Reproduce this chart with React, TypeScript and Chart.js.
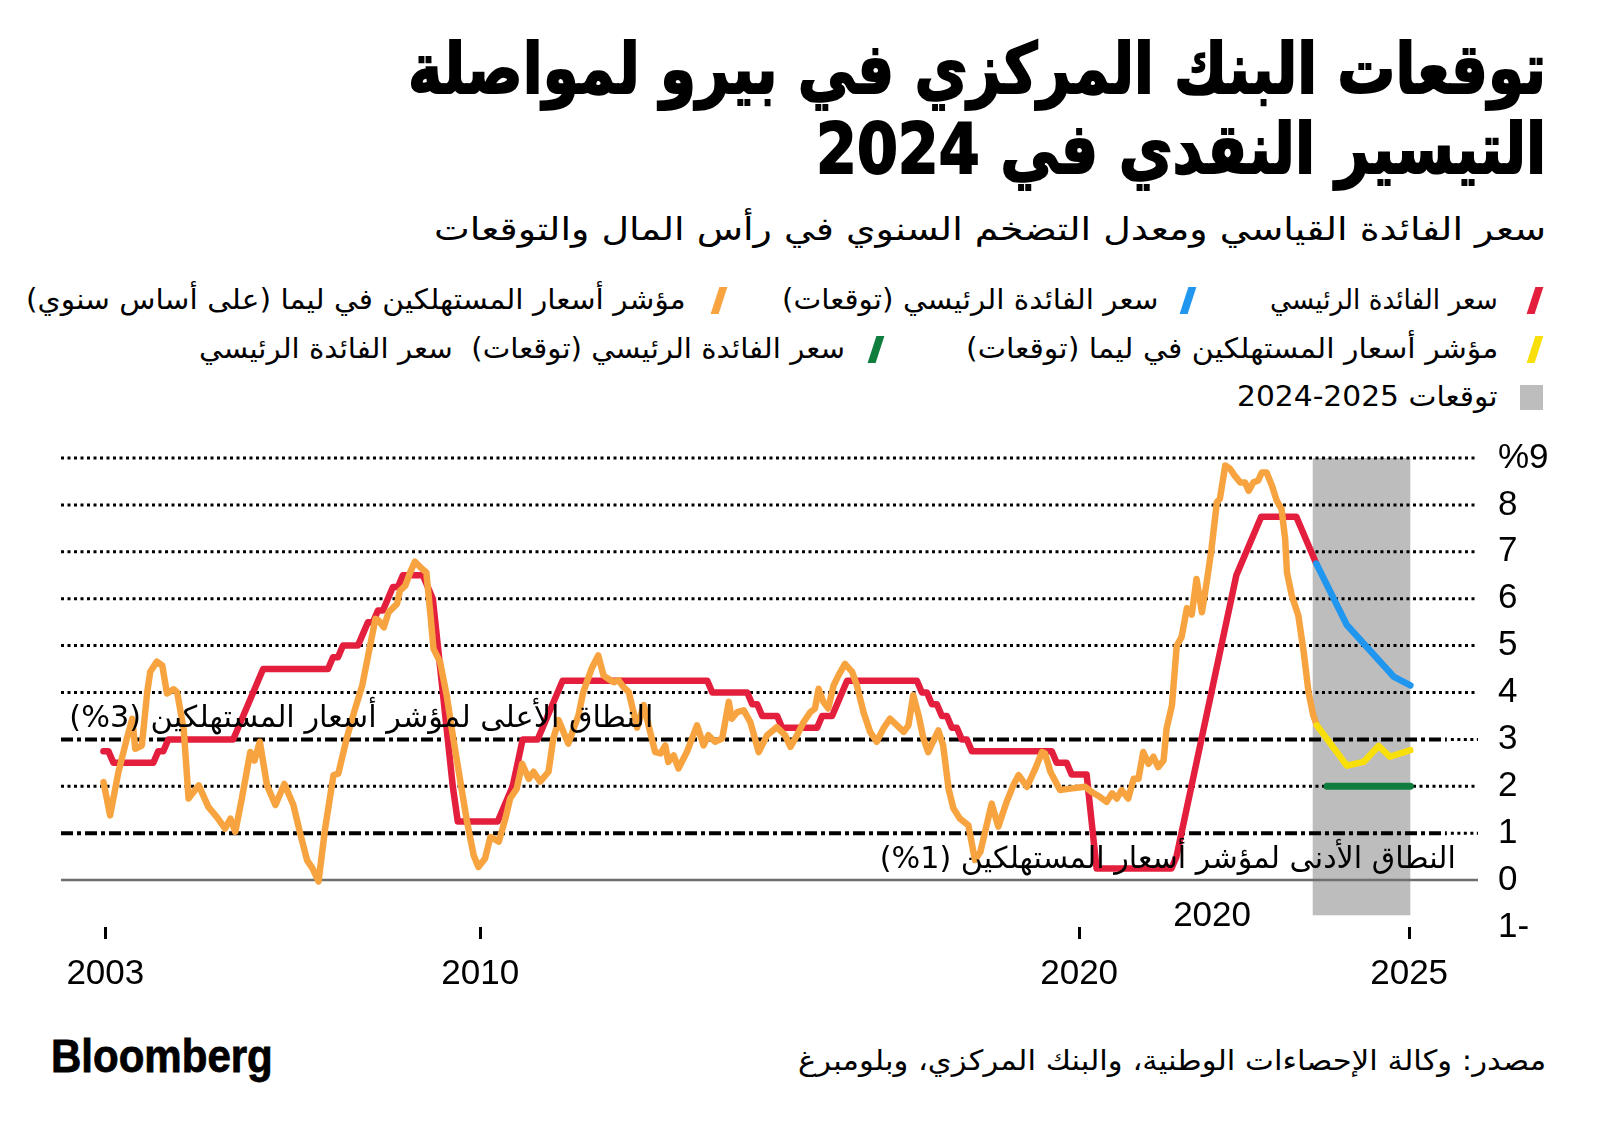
import React, { useEffect, useLayoutEffect, useRef } from 'react';
import { Chart, registerables } from 'chart.js';

Chart.register(...registerables);

// ---------- texts ----------
const TITLE_LINES = ['توقعات البنك المركزي في بيرو لمواصلة', 'التيسير النقدي في 2024'];
const SUBTITLE = 'سعر الفائدة القياسي ومعدل التضخم السنوي في رأس المال والتوقعات';
const SOURCE = 'مصدر: وكالة الإحصاءات الوطنية، والبنك المركزي، وبلومبرغ';
const LOGO = 'Bloomberg';
const UPPER_LABEL = 'النطاق الأعلى لمؤشر أسعار المستهلكين (3%)';
const LOWER_LABEL = 'النطاق الأدنى لمؤشر أسعار المستهلكين (1%)';
const EXTRA_YEAR_LABEL = '2020';

// ---------- legend ----------
const LEGEND_LABELS = [
  'سعر الفائدة الرئيسي',
  'سعر الفائدة الرئيسي (توقعات)',
  'مؤشر أسعار المستهلكين في ليما (على أساس سنوي)',
  'مؤشر أسعار المستهلكين في ليما (توقعات)',
  'سعر الفائدة الرئيسي (توقعات)  سعر الفائدة الرئيسي',
  'توقعات 2025-2024',
];
const RED = '#e41f3d';
const BLUE = '#2196ef';
const ORANGE = '#f7a440';
const YELLOW = '#f9df0a';
const GREEN = '#0f7d3d';
const SHADE = '#bdbdbd';
const LEGEND_COLORS = [RED, BLUE, ORANGE, YELLOW, GREEN, SHADE];

// ---------- axes ----------
const X_MIN = 2003.0;
const X_MAX = 2026.66;
const X_TICK_VALUES = [2003.74, 2010.0, 2020.0, 2025.51];
const X_TICK_LABELS = ['2003', '2010', '2020', '2025'];
const Y_MIN = -1;
const Y_MAX = 9;
const Y_TICK_VALUES = [-1, 0, 1, 2, 3, 4, 5, 6, 7, 8, 9];
const Y_TICK_LABELS = ['1-', '0', '1', '2', '3', '4', '5', '6', '7', '8', '%9'];
const GRID_VALUES = [2, 4, 5, 6, 7, 8, 9];
const BOUND_VALUES = [1, 3];
const BOUND_END = 2026.14;
const FORECAST_FROM = 2023.9;
const FORECAST_TO = 2025.53;
const FORECAST_BOTTOM = -0.75;

// ---------- data ----------
// Policy rate, monthly from Sep 2003 to Dec 2023
const RATE_START_YEAR = 2003;
const RATE_START_MONTH = 9;
const RATE_VALUES = [
  2.75, 2.75, 2.5, 2.5,
  2.5, 2.5, 2.5, 2.5, 2.5, 2.5, 2.5, 2.75, 2.75, 3, 3, 3,
  3, 3, 3, 3, 3, 3, 3, 3, 3, 3, 3, 3.25,
  3.5, 3.75, 4, 4.25, 4.5, 4.5, 4.5, 4.5, 4.5, 4.5, 4.5, 4.5,
  4.5, 4.5, 4.5, 4.5, 4.5, 4.5, 4.75, 4.75, 5, 5, 5, 5,
  5.25, 5.5, 5.5, 5.75, 5.75, 6, 6.25, 6.25, 6.5, 6.5, 6.5, 6.5,
  6.5, 6.25, 6, 5, 4, 3, 2, 1.25, 1.25, 1.25, 1.25, 1.25,
  1.25, 1.25, 1.25, 1.25, 1.5, 1.75, 2, 2.5, 3, 3, 3, 3,
  3.25, 3.5, 3.75, 4, 4.25, 4.25, 4.25, 4.25, 4.25, 4.25, 4.25, 4.25,
  4.25, 4.25, 4.25, 4.25, 4.25, 4.25, 4.25, 4.25, 4.25, 4.25, 4.25, 4.25,
  4.25, 4.25, 4.25, 4.25, 4.25, 4.25, 4.25, 4.25, 4.25, 4.25, 4, 4,
  4, 4, 4, 4, 4, 4, 3.75, 3.75, 3.5, 3.5, 3.5, 3.5,
  3.25, 3.25, 3.25, 3.25, 3.25, 3.25, 3.25, 3.25, 3.5, 3.5, 3.5, 3.75,
  4, 4.25, 4.25, 4.25, 4.25, 4.25, 4.25, 4.25, 4.25, 4.25, 4.25, 4.25,
  4.25, 4.25, 4.25, 4.25, 4, 4, 3.75, 3.75, 3.5, 3.5, 3.25, 3.25,
  3, 3, 2.75, 2.75, 2.75, 2.75, 2.75, 2.75, 2.75, 2.75, 2.75, 2.75,
  2.75, 2.75, 2.75, 2.75, 2.75, 2.75, 2.75, 2.5, 2.5, 2.5, 2.25, 2.25,
  2.25, 2.25, 1.25, 0.25, 0.25, 0.25, 0.25, 0.25, 0.25, 0.25, 0.25, 0.25,
  0.25, 0.25, 0.25, 0.25, 0.25, 0.25, 0.25, 0.5, 1, 1.5, 2, 2.5,
  3, 3.5, 4, 4.5, 5, 5.5, 6, 6.5, 6.75, 7, 7.25, 7.5,
  7.75, 7.75, 7.75, 7.75, 7.75, 7.75, 7.75, 7.75, 7.5, 7.25, 7, 6.75,
];

// Lima CPI y/y (dates as decimal years)
const CPI_YEARS = [
  2003.71, 2003.82, 2003.96, 2004.10, 2004.19, 2004.24, 2004.35, 2004.44, 2004.49, 2004.60,
  2004.69, 2004.77, 2004.88, 2004.94, 2005.05, 2005.13, 2005.30, 2005.46, 2005.60, 2005.74,
  2005.83, 2005.91, 2006.02, 2006.16, 2006.23, 2006.32, 2006.44, 2006.58, 2006.73, 2006.88,
  2007.00, 2007.11, 2007.20, 2007.30, 2007.41, 2007.55, 2007.63, 2007.77, 2007.91, 2008.03,
  2008.14, 2008.25, 2008.30, 2008.39, 2008.47, 2008.61, 2008.66, 2008.75, 2008.83, 2008.91,
  2009.00, 2009.10, 2009.17, 2009.22, 2009.33, 2009.44, 2009.55, 2009.67, 2009.78, 2009.89,
  2009.97, 2010.08, 2010.17, 2010.31, 2010.42, 2010.50, 2010.61, 2010.70, 2010.81, 2010.89,
  2011.00, 2011.14, 2011.22, 2011.31, 2011.39, 2011.47, 2011.56, 2011.64, 2011.72, 2011.86,
  2011.97, 2012.06, 2012.14, 2012.23, 2012.31, 2012.39, 2012.48, 2012.62, 2012.73, 2012.81,
  2012.92, 2013.01, 2013.09, 2013.14, 2013.23, 2013.31, 2013.45, 2013.62, 2013.73, 2013.81,
  2013.92, 2014.04, 2014.15, 2014.20, 2014.29, 2014.40, 2014.51, 2014.65, 2014.79, 2014.95,
  2015.09, 2015.18, 2015.29, 2015.40, 2015.51, 2015.59, 2015.65, 2015.73, 2015.81, 2015.90,
  2015.98, 2016.09, 2016.21, 2016.29, 2016.40, 2016.51, 2016.62, 2016.73, 2016.84, 2016.96,
  2017.07, 2017.15, 2017.23, 2017.32, 2017.40, 2017.48, 2017.57, 2017.65, 2017.73, 2017.82,
  2017.90, 2018.01, 2018.15, 2018.26, 2018.35, 2018.43, 2018.54, 2018.65, 2018.79, 2018.90,
  2018.99, 2019.13, 2019.27, 2019.38, 2019.43, 2019.52, 2019.68, 2019.85, 2020.10, 2020.21,
  2020.35, 2020.46, 2020.55, 2020.63, 2020.71, 2020.82, 2020.91, 2020.99, 2021.07, 2021.16,
  2021.24, 2021.32, 2021.41, 2021.46, 2021.55, 2021.63, 2021.71, 2021.80, 2021.88, 2021.96,
  2022.05, 2022.13, 2022.21, 2022.30, 2022.35, 2022.44, 2022.52, 2022.60, 2022.69, 2022.77,
  2022.83, 2022.91, 2022.99, 2023.05, 2023.13, 2023.22, 2023.30, 2023.38, 2023.44, 2023.47,
  2023.55, 2023.66, 2023.75, 2023.83, 2023.91, 2023.97,
];
const CPI_VALUES = [
  2.09, 1.38, 2.31, 3.02, 3.44, 2.80, 2.87, 4.01, 4.44, 4.66,
  4.58, 3.98, 4.07, 4.00, 3.20, 1.74, 2.02, 1.56, 1.35, 1.10,
  1.31, 1.03, 1.74, 2.73, 2.55, 2.95, 2.02, 1.60, 2.05, 1.60,
  0.96, 0.42, 0.25, -0.03, 1.10, 2.24, 2.27, 3.02, 3.65, 4.15,
  4.86, 5.57, 5.54, 5.39, 5.71, 5.89, 6.17, 6.28, 6.56, 6.79,
  6.67, 6.56, 5.64, 4.93, 4.65, 3.94, 3.02, 2.09, 1.24, 0.53,
  0.28, 0.46, 0.92, 0.82, 1.31, 1.74, 1.95, 2.48, 2.16, 2.31,
  2.10, 2.31, 3.02, 3.41, 3.16, 2.91, 3.23, 3.51, 4.01, 4.51,
  4.79, 4.36, 4.29, 4.22, 4.26, 4.12, 4.01, 3.25, 3.73, 3.30,
  2.73, 2.70, 2.87, 2.52, 2.66, 2.38, 2.73, 3.30, 2.87, 3.09,
  2.95, 3.02, 3.80, 3.44, 3.58, 3.62, 3.37, 2.73, 3.09, 3.26,
  3.09, 2.84, 3.09, 3.37, 3.58, 3.66, 4.08, 3.80, 3.66, 4.15,
  4.36, 4.61, 4.44, 4.15, 3.58, 3.16, 2.95, 3.23, 3.44, 3.30,
  3.16, 3.30, 3.94, 3.51, 3.02, 2.73, 2.98, 3.19, 2.87, 1.95,
  1.53, 1.31, 1.17, 0.43, 0.60, 1.03, 1.63, 1.14, 1.67, 2.02,
  2.24, 1.99, 2.38, 2.73, 2.70, 2.31, 1.92, 1.95, 1.99, 1.88,
  1.77, 1.67, 1.85, 1.74, 1.92, 1.74, 2.16, 2.16, 2.73, 2.48,
  2.63, 2.41, 2.55, 3.23, 3.73, 5.00, 5.18, 5.80, 5.66, 6.42,
  5.71, 6.35, 7.06, 8.06, 8.13, 8.84, 8.77, 8.62, 8.48, 8.48,
  8.30, 8.48, 8.52, 8.69, 8.69, 8.41, 8.09, 7.91, 7.27, 6.56,
  6.07, 5.64, 4.86, 4.01, 3.51, 3.30,
];

// Forecasts
const RATE_FC_YEARS = [2023.96, 2024.47, 2025.25, 2025.53];
const RATE_FC_VALUES = [6.75, 5.44, 4.34, 4.15];
const CPI_FC_YEARS = [2023.97, 2024.47, 2024.75, 2025.0, 2025.19, 2025.53];
const CPI_FC_VALUES = [3.30, 2.44, 2.52, 2.86, 2.63, 2.77];
const NEUTRAL_YEARS = [2024.14, 2025.53];
const NEUTRAL_VALUES = [2, 2];

// ---------- helpers ----------
const RATE_YEARS = RATE_VALUES.map((_, i) => {
  const m = RATE_START_MONTH - 1 + i;
  return RATE_START_YEAR + (m + 0.5) / 12;
});
const pts = (xs: number[], ys: number[]) => xs.map((x, i) => ({ x, y: ys[i] }));

const AR_FONT = '"DejaVu Sans", sans-serif';
const NUM_FONT = '"Liberation Sans", Arial, sans-serif';

const ANNOTATIONS = [
  { text: UPPER_LABEL, x: 2012.89, y: 3.27, width: 584, size: 30 },
  { text: LOWER_LABEL, x: 2026.29, y: 0.26, width: 576, size: 30 },
];
const EXTRA_YEAR_POS = { x: 2022.22, y: -0.77 };

const decorPlugin = {
  id: 'decor',
  beforeDatasetsDraw(chart: any) {
    const { ctx, chartArea: a } = chart;
    const xs = chart.scales.x;
    const ys = chart.scales.y;
    ctx.save();
    const sx0 = xs.getPixelForValue(FORECAST_FROM);
    const sx1 = xs.getPixelForValue(FORECAST_TO);
    const sy0 = ys.getPixelForValue(Y_MAX);
    const sy1 = ys.getPixelForValue(FORECAST_BOTTOM);
    ctx.fillStyle = SHADE;
    ctx.fillRect(sx0, sy0, sx1 - sx0, sy1 - sy0);
    const hline = (v: number, from: number, to: number, dash: number[], lw: number, color: string) => {
      const py = ys.getPixelForValue(v);
      ctx.beginPath();
      ctx.setLineDash(dash);
      ctx.lineWidth = lw;
      ctx.strokeStyle = color;
      ctx.lineCap = 'butt';
      ctx.moveTo(from, py);
      ctx.lineTo(to, py);
      ctx.stroke();
    };
    const DOT = [3, 3.5];
    GRID_VALUES.forEach((v) => hline(v, a.left, a.right, DOT, 3, '#000'));
    const bx = xs.getPixelForValue(BOUND_END);
    BOUND_VALUES.forEach((v) => {
      hline(v, a.left, bx, [12, 4, 4, 4], 4, '#000');
      hline(v, bx + 4, a.right, DOT, 3, '#000');
    });
    hline(0, a.left, a.right, [], 2.5, '#6e6e6e');
    ctx.restore();
  },
  afterDatasetsDraw(chart: any) {
    const { ctx } = chart;
    const xs = chart.scales.x;
    const ys = chart.scales.y;
    ctx.save();
    ANNOTATIONS.forEach((t) => {
      ctx.font = `${t.size}px ${AR_FONT}`;
      ctx.direction = 'rtl';
      const w = ctx.measureText(t.text).width;
      ctx.save();
      ctx.translate(xs.getPixelForValue(t.x), ys.getPixelForValue(t.y));
      ctx.scale(t.width / w, 1);
      ctx.textAlign = 'right';
      ctx.textBaseline = 'alphabetic';
      ctx.fillStyle = '#000';
      ctx.fillText(t.text, 0, 0);
      ctx.restore();
    });
    ctx.direction = 'ltr';
    ctx.font = `35px ${NUM_FONT}`;
    ctx.textAlign = 'center';
    ctx.textBaseline = 'middle';
    ctx.fillStyle = '#000';
    ctx.fillText(EXTRA_YEAR_LABEL, xs.getPixelForValue(EXTRA_YEAR_POS.x), ys.getPixelForValue(EXTRA_YEAR_POS.y));
    ctx.restore();
  },
};

function lineDs(data: any[], color: string, order: number, width = 6.5) {
  return {
    data,
    borderColor: color,
    backgroundColor: color,
    borderWidth: width,
    pointRadius: 0,
    tension: 0,
    fill: false,
    borderJoinStyle: 'round',
    borderCapStyle: 'round',
    order,
  };
}

function ChartCanvas() {
  const ref = useRef<HTMLCanvasElement>(null);
  useEffect(() => {
    const canvas = ref.current;
    if (!canvas) return;
    const chart = new Chart(canvas, {
      type: 'line',
      data: {
        datasets: [
          lineDs(pts(RATE_FC_YEARS, RATE_FC_VALUES), BLUE, 1),
          lineDs(pts(CPI_FC_YEARS, CPI_FC_VALUES), YELLOW, 1),
          lineDs(pts(NEUTRAL_YEARS, NEUTRAL_VALUES), GREEN, 1, 7),
          lineDs(pts(CPI_YEARS, CPI_VALUES), ORANGE, 2),
          lineDs(pts(RATE_YEARS, RATE_VALUES), RED, 3),
        ] as any,
      },
      options: {
        responsive: false,
        animation: false,
        devicePixelRatio: 1,
        layout: { padding: { left: 61, top: 28, right: 0, bottom: 0 } },
        plugins: { legend: { display: false }, tooltip: { enabled: false } },
        scales: {
          x: {
            type: 'linear',
            min: X_MIN,
            max: X_MAX,
            afterBuildTicks: (s: any) => {
              s.ticks = X_TICK_VALUES.map((v) => ({ value: v }));
            },
            afterFit: (s: any) => {
              s.height = 73;
            },
            grid: {
              display: true,
              drawOnChartArea: false,
              drawTicks: true,
              tickLength: 12,
              tickWidth: 3,
              tickColor: '#000',
            },
            border: { display: false },
            ticks: {
              autoSkip: false,
              maxRotation: 0,
              padding: 14,
              color: '#000',
              font: { family: NUM_FONT, size: 35 },
              callback: (_v: any, i: number) => X_TICK_LABELS[i],
            },
          },
          y: {
            type: 'linear',
            position: 'right',
            min: Y_MIN,
            max: Y_MAX,
            afterBuildTicks: (s: any) => {
              s.ticks = Y_TICK_VALUES.map((v) => ({ value: v }));
            },
            afterFit: (s: any) => {
              s.width = 122;
            },
            grid: {
              display: true,
              drawOnChartArea: false,
              drawTicks: true,
              tickLength: 20,
              tickColor: 'rgba(0,0,0,0)',
            },
            border: { display: false },
            ticks: {
              autoSkip: false,
              padding: 0,
              color: '#000',
              font: { family: NUM_FONT, size: 35 },
              callback: (_v: any, i: number) => Y_TICK_LABELS[i],
            },
          },
        },
      } as any,
      plugins: [decorPlugin],
    });
    return () => chart.destroy();
  }, []);
  return (
    <canvas
      ref={ref}
      width={1600}
      height={570}
      style={{ position: 'absolute', left: 0, top: 430, width: 1600, height: 570 }}
    />
  );
}

type FitProps = {
  text: string;
  right: number;
  baseline: number;
  width: number;
  size: number;
  weight?: number | string;
  family?: string;
  dir?: 'rtl' | 'ltr';
  scaleY?: number;
  stroke?: number;
};

function FitText({ text, right, baseline, width, size, weight = 400, family = AR_FONT, dir = 'rtl', scaleY = 1, stroke = 0 }: FitProps) {
  const ref = useRef<HTMLDivElement>(null);
  const asc = 0.846 * size;
  useLayoutEffect(() => {
    const fit = () => {
      const el = ref.current;
      if (!el) return;
      const nat = el.offsetWidth || 1;
      el.style.transform = `scale(${width / nat}, ${scaleY})`;
    };
    fit();
    const f: any = (document as any).fonts;
    if (f && f.ready) f.ready.then(fit);
  }, [text, width, scaleY]);
  return (
    <div
      ref={ref}
      dir={dir}
      style={{
        position: 'absolute',
        right: 1600 - right,
        top: baseline - asc,
        fontSize: size,
        fontFamily: family,
        fontWeight: weight as any,
        lineHeight: 1,
        whiteSpace: 'pre',
        color: '#000',
        transformOrigin: `right ${asc}px`,
        WebkitTextStroke: stroke ? `${stroke}px #000` : undefined,
      }}
    >
      {text}
    </div>
  );
}

const LEGEND_LAYOUT = [
  { baseline: 310, swatchRight: 1543, textRight: 1498, textWidth: 228 },
  { baseline: 310, swatchRight: 1196, textRight: 1158, textWidth: 377 },
  { baseline: 310, swatchRight: 727, textRight: 686, textWidth: 660 },
  { baseline: 359, swatchRight: 1543, textRight: 1498, textWidth: 532 },
  { baseline: 359, swatchRight: 884, textRight: 845, textWidth: 646 },
  { baseline: 407, swatchRight: 1543, textRight: 1498, textWidth: 261 },
];

function Legend() {
  return (
    <>
      {LEGEND_LABELS.map((label, i) => {
        const L = LEGEND_LAYOUT[i];
        const isBox = i === LEGEND_LABELS.length - 1;
        const swatch = isBox ? (
          <div
            style={{
              position: 'absolute',
              left: L.swatchRight - 23,
              top: L.baseline - 22,
              width: 23,
              height: 25,
              background: LEGEND_COLORS[i],
            }}
          />
        ) : (
          <div
            style={{
              position: 'absolute',
              left: L.swatchRight - 7.7 - 4,
              top: L.baseline - 23,
              width: 8,
              height: 27,
              background: LEGEND_COLORS[i],
              transform: 'skewX(-18deg)',
            }}
          />
        );
        return (
          <React.Fragment key={i}>
            {swatch}
            <FitText text={label} right={L.textRight} baseline={L.baseline} width={L.textWidth} size={28} />
          </React.Fragment>
        );
      })}
    </>
  );
}

export default function App() {
  return (
    <div
      style={{
        position: 'absolute',
        left: 0,
        top: 0,
        width: 1600,
        height: 1137,
        background: '#fff',
        overflow: 'hidden',
      }}
    >
      <FitText text={TITLE_LINES[0]} right={1546} baseline={93} width={1138} size={70} weight={700} stroke={2} />
      <FitText text={TITLE_LINES[1]} right={1546} baseline={173} width={730} size={70} weight={700} stroke={2} />
      <FitText text={SUBTITLE} right={1546} baseline={240} width={1112} size={32} />
      <Legend />
      <ChartCanvas />
      <FitText text={LOGO} right={273} baseline={1072} width={222} size={46} weight={700} family={NUM_FONT} dir="ltr" stroke={0.8} />
      <FitText text={SOURCE} right={1546} baseline={1071} width={748} size={28} />
    </div>
  );
}
